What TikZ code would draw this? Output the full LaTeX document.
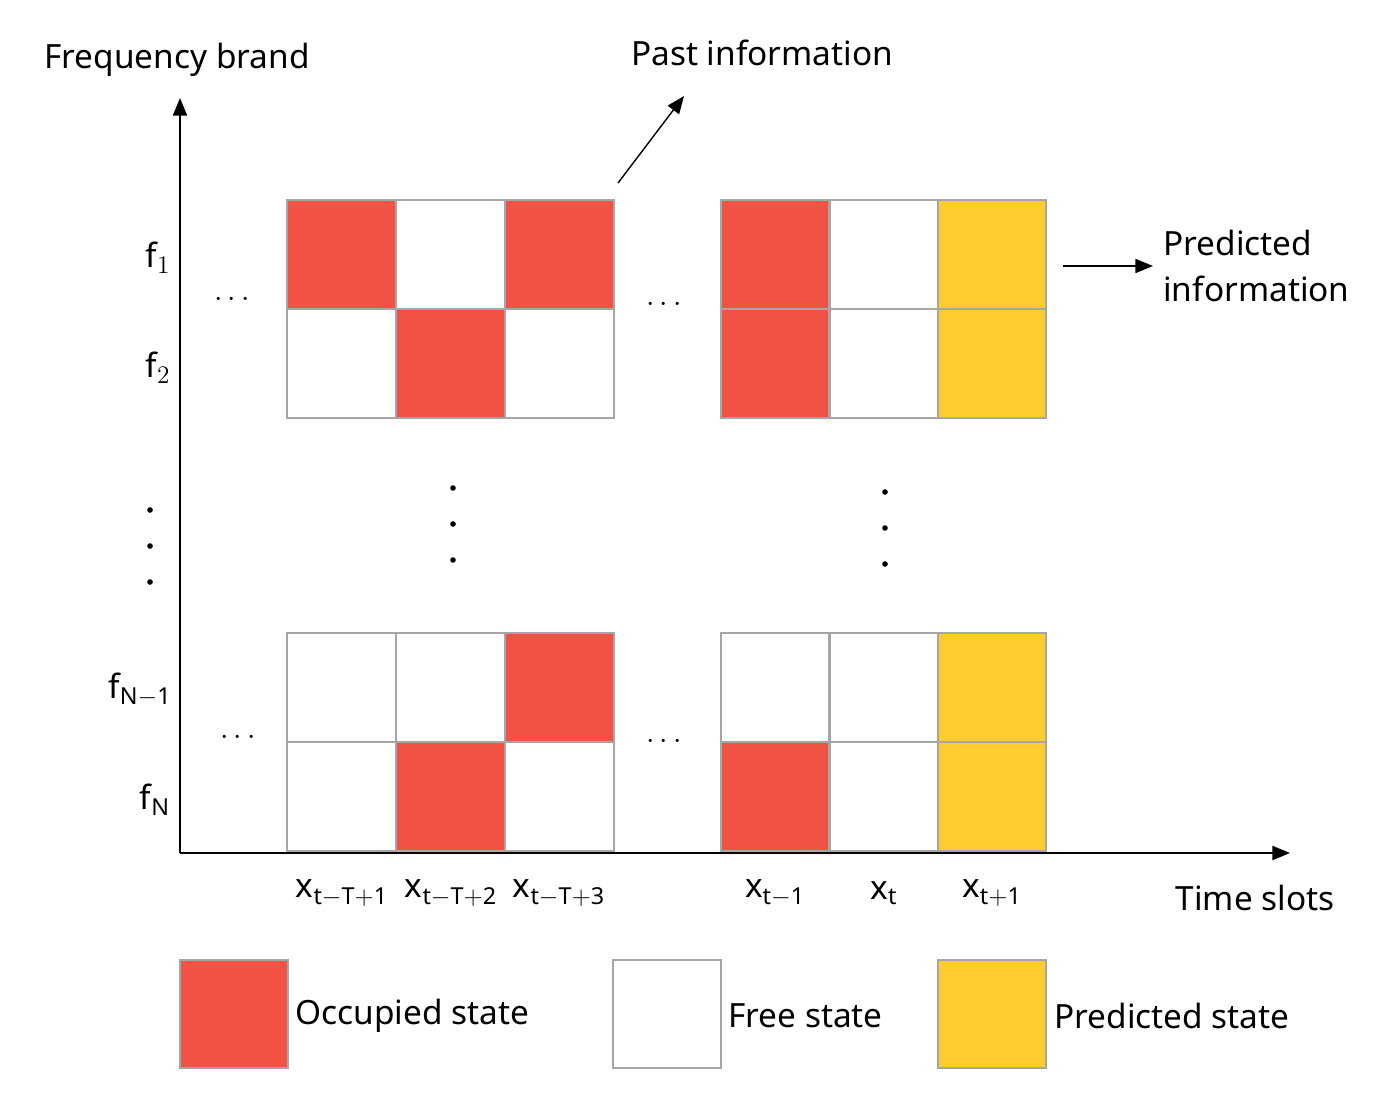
\documentclass[tikz,border=0pt]{standalone}
\usepackage{fontspec}
\setmainfont{Noto Sans}
\usetikzlibrary{arrows.meta}
\definecolor{occ}{RGB}{242,82,68}
\definecolor{pred}{RGB}{255,204,46}
\begin{document}
\begin{tikzpicture}[x=0.02cm,y=-0.02cm,
  cell/.style={draw=black!35,line width=0.8pt},
  lbl/.style={font=\fontsize{19}{22}\selectfont,inner sep=0pt},
  ax/.style={line width=1pt,-{Triangle[length=10pt,width=8pt]}},
  dd/.style={font=\fontsize{19}{22}\selectfont}]
\useasboundingbox (0,0) rectangle (1376,1101);
% axes
\coordinate (o) at (180,853);
\coordinate (ytop) at (180,98);
\coordinate (xend) at (1290,853);
\draw[ax] (o) -- (ytop);
\draw[ax] (o) -- (xend);
% grids
\def\xa{287,396,505}
\def\xb{721,830,938}
\foreach \y/\pat in {200/{occ,white,occ},309/{white,occ,white},633/{white,white,occ},742/{white,occ,white}}{
  \foreach \x [count=\i] in {287,396,505}{
    \foreach \c [count=\j] in \pat { \ifnum\i=\j \fill[\c] (\x,\y) rectangle ++(109,109);\fi }
  }
}
\foreach \y/\pat in {200/{occ,white,pred},309/{occ,white,pred},633/{white,white,pred},742/{occ,white,pred}}{
  \foreach \x [count=\i] in {721,830,938}{
    \foreach \c [count=\j] in \pat { \ifnum\i=\j \fill[\c] (\x,\y) rectangle ++(109,109);\fi }
  }
}
\foreach \y in {200,633}{
  \draw[cell] (287,\y) grid[xstep=109,ystep=109] ++(0,0);
  \foreach \x in {287,396,505}{\draw[cell] (\x,\y) rectangle ++(109,109); \draw[cell] (\x,\y+109) rectangle ++(109,109);}
  \foreach \x in {721,830,938}{\draw[cell] (\x,\y) rectangle ++(108,109); \draw[cell] (\x,\y+109) rectangle ++(108,109);}
}
% labels
\node[lbl] (fb) at (177,60) {Frequency brand};
\node[lbl] (pi) at (762,53) {Past information};
\coordinate (pa) at (618,183);
\coordinate (pb) at (684,96);
\draw[ax,line width=0.8pt] (pa) -- (pb);
\node[lbl,align=left,anchor=west] (pr) at (1163,266) {Predicted\\[4pt]information};
\coordinate (qa) at (1063,266);
\coordinate (qb) at (1153,266);
\draw[ax,line width=0.8pt] (qa) -- (qb);
\node[lbl] (ts) at (1255,898) {Time slots};
\node[lbl] (f1) at (158,258) {f$_1$};
\node[lbl] (f2) at (158,368) {f$_2$};
\node[lbl] (fn1) at (140,690) {f$_{\mathrm{N-1}}$};
\node[lbl] (fn) at (155,800) {f$_{\mathrm{N}}$};
\node[lbl] (x1) at (342,893) {x$_{\mathrm{t-T+1}}$};
\node[lbl] (x2) at (451,893) {x$_{\mathrm{t-T+2}}$};
\node[lbl] (x3) at (559,893) {x$_{\mathrm{t-T+3}}$};
\node[lbl] (x4) at (775,893) {x$_{\mathrm{t-1}}$};
\node[lbl] (x5) at (884,893) {x$_{\mathrm{t}}$};
\node[lbl] (x6) at (992,893) {x$_{\mathrm{t+1}}$};
% dots
\foreach \p in {(232,300),(664,305),(238,738),(664,742)} \node[dd] at \p {$\cdots$};
\foreach \x/\a in {150/510,453/488,885/492} \foreach \k in {0,1,2} \fill (\x,\a+\k*36) circle (1.6pt);
% legend
\fill[occ] (180,960) rectangle (288,1068); \draw[cell] (180,960) rectangle (288,1068);
\draw[cell] (613,960) rectangle (721,1068);
\fill[pred] (938,960) rectangle (1046,1068); \draw[cell] (938,960) rectangle (1046,1068);
\node[lbl,anchor=west] (l1) at (295,1016) {Occupied state};
\node[lbl,anchor=west] (l2) at (728,1016) {Free state};
\node[lbl,anchor=west] (l3) at (1054,1016) {Predicted state};
\end{tikzpicture}
\end{document}
